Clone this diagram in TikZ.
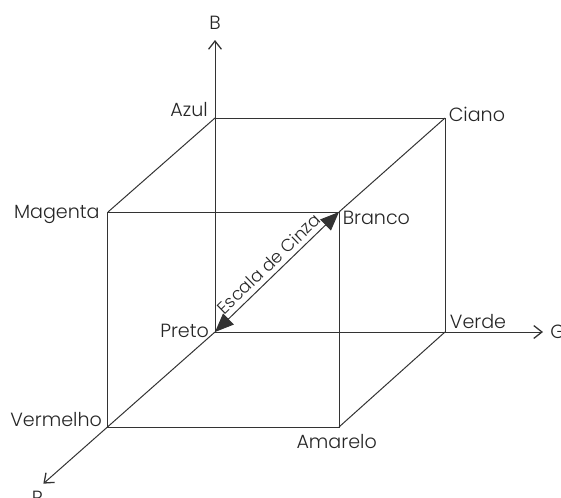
\documentclass[tikz,border=0pt]{standalone}
\usepackage{fontspec}
\setmainfont{Poppins}[UprightFont=* Light]
\usepackage{tikz}
\usetikzlibrary{arrows.meta,positioning}

\definecolor{cubeline}{gray}{0.2}
\tikzset{
  cubeedge/.style={cubeline,line width=0.85pt},
  axisline/.style={cubeedge,-{Straight Barb[length=7pt,width=11pt,line width=1.1pt]}},
  colorlabel/.style={font=\fontsize{16.3}{18}\selectfont,text=black!85,inner sep=0pt},
}

\begin{document}
\begin{tikzpicture}
  \useasboundingbox (-6.45,-4.95) rectangle (10.38,9.96);

  % Cube corners
  \coordinate (Preto) at (0,0);
  \coordinate (Azul) at (0,6.42);
  \coordinate (Ciano) at (6.9,6.42);
  \coordinate (Verde) at (6.9,0);
  \coordinate (Magenta) at (-3.21,3.6);
  \coordinate (Branco) at (3.72,3.6);
  \coordinate (Vermelho) at (-3.21,-2.85);
  \coordinate (Amarelo) at (3.72,-2.85);

  % Axis ends
  \coordinate (R) at (-5.15,-4.55);
  \coordinate (G) at (9.84,0);
  \coordinate (B) at (0,8.76);

  % Edges
  \draw[cubeedge] (Azul) -- (Ciano) -- (Verde);
  \draw[cubeedge] (Magenta) -- (Branco) -- (Amarelo) -- (Vermelho) -- (Magenta);
  \draw[cubeedge] (Magenta) -- (Azul);
  \draw[cubeedge] (Amarelo) -- (Verde);
  \draw[cubeedge] (Branco) -- (Ciano);

  % Axes
  \draw[axisline] (Preto) -- (R);
  \draw[axisline] (Preto) -- (G);
  \draw[axisline] (Preto) -- (B);

  % Gray scale
  \draw[cubeedge,{Triangle[length=16pt,width=13pt]}-{Triangle[length=16pt,width=13pt]}] (Preto) -- (Branco)
    node[midway,sloped,above,colorlabel,yshift=4pt,font=\fontsize{14.8}{18}\selectfont] (Escala) {Escala de Cinza};

  % Labels
  \node[colorlabel,left=6pt of Azul,yshift=7pt] (AzulLabel) {Azul};
  \node[colorlabel,right=3pt of Ciano,yshift=3pt] (CianoLabel) {Ciano};
  \node[colorlabel,left=7pt of Magenta,yshift=-2pt] (MagentaLabel) {Magenta};
  \node[colorlabel,right=3pt of Branco,yshift=-5pt] (BrancoLabel) {Branco};
  \node[colorlabel,left=5pt of Preto,yshift=1pt] (PretoLabel) {Preto};
  \node[colorlabel,above right=3pt and 4pt of Verde] (VerdeLabel) {Verde};
  \node[colorlabel,left=5pt of Vermelho,yshift=6pt] (VermelhoLabel) {Vermelho};
  \node[colorlabel,below=6pt of Amarelo,xshift=-2pt] (AmareloLabel) {Amarelo};
  \node[colorlabel,below left=6pt and 0pt of R] (RLabel) {R};
  \node[colorlabel,right=6pt of G] (GLabel) {G};
  \node[colorlabel,above=9pt of B] (BLabel) {B};
\end{tikzpicture}
\end{document}
